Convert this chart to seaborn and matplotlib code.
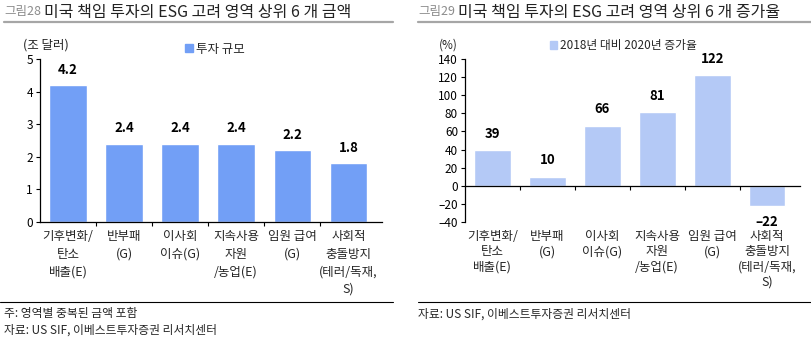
import matplotlib
matplotlib.use("Agg")
import matplotlib.pyplot as plt
from matplotlib.lines import Line2D
from matplotlib.patches import Patch
import seaborn as sns
import pandas as pd

# ESG focus areas (shared by both panels)
categories = [
    "기후변화/\n탄소\n배출(E)",
    "반부패\n(G)",
    "이사회\n이슈(G)",
    "지속사용\n자원\n/농업(E)",
    "임원 급여\n(G)",
    "사회적\n충돌방지\n(테러/독재,\nS)",
]
amount_trn_usd = [4.2, 2.4, 2.4, 2.4, 2.2, 1.8]
growth_pct = [39, 10, 66, 81, 122, -22]

left_yticks = [0, 1, 2, 3, 4, 5]
right_yticks = [-40, -20, 0, 20, 40, 60, 80, 100, 120, 140]

sns.set_theme(style="white")
plt.rcParams["font.family"] = ["Noto Sans CJK KR", "DejaVu Sans"]
plt.rcParams["axes.unicode_minus"] = False

W, H = 811, 338
fig = plt.figure(figsize=(W / 100, H / 100), dpi=100)
fig.patch.set_facecolor("white")


def fx(px):
    return px / W


def fy(py):
    return 1 - py / H


def style_axis(ax, ticks):
    ax.set_yticks(ticks)
    ax.set_yticklabels([str(t) if t >= 0 else "\u2013" + str(-t) for t in ticks])
    for s in ["top", "right"]:
        ax.spines[s].set_visible(False)
    ax.spines["left"].set_color("black")
    ax.spines["left"].set_linewidth(0.9)
    ax.tick_params(axis="y", which="major", direction="out", length=3, width=0.8,
                   colors="black", labelsize=8.5, pad=2, left=True)
    ax.tick_params(axis="x", which="major", length=0, labelsize=9, pad=6)
    ax.set_xticks(range(len(categories)))
    ax.set_xticklabels(categories, linespacing=1.45, va="top")
    ax.set_xticks([i + 0.5 for i in range(len(categories) - 1)], minor=True)
    ax.tick_params(axis="x", which="minor", direction="out", length=3, width=0.8,
                   colors="black", bottom=True)
    ax.set_xlabel("")
    ax.set_ylabel("")
    ax.set_xlim(-0.5, len(categories) - 0.4)


# ---------------- left panel: amount ----------------
df_amt = pd.DataFrame({"area": categories, "value": amount_trn_usd})
axL = fig.add_axes([fx(40), fy(222), fx(382 - 40), fy(59) - fy(222)])
c_left = "#729ff6"
sns.barplot(data=df_amt, x="area", y="value", color=c_left, width=0.67,
            saturation=1, ax=axL)
axL.set_ylim(0, 5)
style_axis(axL, left_yticks)
axL.spines["bottom"].set_color("black")
axL.spines["bottom"].set_linewidth(0.9)
axL.bar_label(axL.containers[0], labels=[f"{v:.1f}" for v in amount_trn_usd],
              padding=6, fontsize=9.5, fontweight="bold", color="black")
axL.legend(handles=[Patch(color=c_left, label="투자 규모")], loc="upper left",
           bbox_to_anchor=((180 - 40) / (382 - 40), 1.13), frameon=False,
           handlelength=0.6, handleheight=0.6, handletextpad=0.3, fontsize=9,
           borderaxespad=0)
fig.text(fx(46), fy(45), "(조 달러)", ha="center", va="center", fontsize=9)

# ---------------- right panel: growth ----------------
df_gr = pd.DataFrame({"area": categories, "value": growth_pct})
axR = fig.add_axes([fx(465), fy(222), fx(800 - 465), fy(59) - fy(222)])
c_right = "#b4c9f6"
sns.barplot(data=df_gr, x="area", y="value", color=c_right, width=0.67,
            saturation=1, ax=axR)
axR.set_ylim(-40, 140)
style_axis(axR, right_yticks)
axR.spines["bottom"].set_position(("data", 0))
axR.spines["bottom"].set_color("black")
axR.spines["bottom"].set_linewidth(0.9)
axR.tick_params(axis="x", which="major", pad=32)
axR.bar_label(axR.containers[0],
              labels=[str(v) if v >= 0 else "\u2013" + str(-v) for v in growth_pct],
              padding=7, fontsize=9.5, fontweight="bold", color="black")
axR.legend(handles=[Patch(color=c_right, label="2018년 대비 2020년 증가율")],
           loc="upper left", bbox_to_anchor=((545 - 465) / (800 - 465), 1.15),
           frameon=False, handlelength=0.6, handleheight=0.6, handletextpad=0.3,
           fontsize=8.5, borderaxespad=0)
fig.text(fx(448), fy(45), "(%)", ha="center", va="center", fontsize=8.5)

# ---------------- titles, rules and notes ----------------
fig.text(fx(4), fy(12), "그림28", ha="left", va="center", fontsize=9, color="#8c8c8c")
fig.text(fx(44), fy(12), "미국 책임 투자의 ESG 고려 영역 상위 6 개 금액",
         ha="left", va="center", fontsize=11.5, color="#222222")
fig.text(fx(418), fy(12), "그림29", ha="left", va="center", fontsize=9, color="#8c8c8c")
fig.text(fx(458), fy(12), "미국 책임 투자의 ESG 고려 영역 상위 6 개 증가율",
         ha="left", va="center", fontsize=11.5, color="#222222")

fig.add_artist(Line2D([fx(4), fx(393)], [fy(22), fy(22)], color="#a6a6a6", lw=1.6))
fig.add_artist(Line2D([fx(418), fx(811)], [fy(22), fy(22)], color="#a6a6a6", lw=1.6))
fig.add_artist(Line2D([fx(0), fx(393)], [fy(302), fy(302)], color="black", lw=0.8))
fig.add_artist(Line2D([fx(418), fx(811)], [fy(302), fy(302)], color="black", lw=0.8))

fig.text(fx(4), fy(314), "주: 영역별 중복된 금액 포함", ha="left", va="center", fontsize=8.5)
fig.text(fx(4), fy(330), "자료: US SIF, 이베스트투자증권 리서치센터", ha="left",
         va="center", fontsize=8.5)
fig.text(fx(418), fy(314), "자료: US SIF, 이베스트투자증권 리서치센터", ha="left",
         va="center", fontsize=8.5)

fig.savefig("out.png", dpi=100, facecolor="white")
